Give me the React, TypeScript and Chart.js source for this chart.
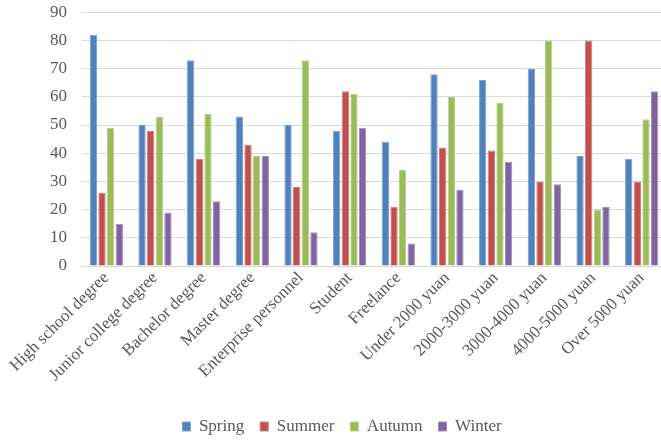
import React, { useEffect, useRef } from "react";
import { Chart, registerables } from "chart.js";

Chart.register(...registerables);

const categories = [
  "High school degree",
  "Junior college degree",
  "Bachelor degree",
  "Master degree",
  "Enterprise personnel",
  "Student",
  "Freelance",
  "Under 2000 yuan",
  "2000-3000 yuan",
  "3000-4000 yuan",
  "4000-5000 yuan",
  "Over 5000 yuan",
];

const spring = [82, 50, 73, 53, 50, 48, 44, 68, 66, 70, 39, 38];
const summer = [26, 48, 38, 43, 28, 62, 21, 42, 41, 30, 80, 30];
const autumn = [49, 53, 54, 39, 73, 61, 34, 60, 58, 80, 20, 52];
const winter = [15, 19, 23, 39, 12, 49, 8, 27, 37, 29, 21, 62];

const FONT = "'Liberation Serif', 'Times New Roman', serif";
const TEXT = "#595959";
const SIZE = 17;

// nudges the legend row a little to the right of the canvas centre
const legendShift = {
  id: "legendShift",
  beforeDraw(chart: any) {
    const lg = chart.legend;
    if (lg && !lg._shifted) {
      lg.left += 9;
      lg.right += 9;
      lg._shifted = true;
    }
  },
};

export default function App() {
  const ref = useRef<HTMLCanvasElement | null>(null);

  useEffect(() => {
    if (!ref.current) return;
    const mk = (label: string, data: number[], fill: string, edge: string) => ({
      label,
      data,
      backgroundColor: fill,
      borderColor: edge,
      borderWidth: 1,
      categoryPercentage: 0.71,
      barPercentage: 0.85,
    });
    const chart = new Chart(ref.current, {
      type: "bar",
      data: {
        labels: categories,
        datasets: [
          mk("Spring", spring, "#4F81BD", "#7EA0CE"),
          mk("Summer", summer, "#C0504D", "#D27F7C"),
          mk("Autumn", autumn, "#9BBB59", "#B9D08A"),
          mk("Winter", winter, "#8064A2", "#A28DBB"),
        ],
      },
      plugins: [legendShift],
      options: {
        animation: false,
        responsive: false,
        layout: { padding: { top: 0, right: 4, bottom: 0, left: 0 } },
        plugins: {
          tooltip: { enabled: false },
          legend: {
            position: "bottom",
            labels: {
              boxWidth: 8,
              boxHeight: 9,
              padding: 16,
              color: TEXT,
              font: { family: FONT, size: SIZE },
              useBorderRadius: false,
            },
          },
        },
        scales: {
          x: {
            afterFit: (scale: any) => {
              scale.height = 136;
            },
            grid: { display: false, drawTicks: false },
            border: { display: true, color: "#D9D9D9", width: 1 },
            ticks: {
              color: TEXT,
              font: { family: FONT, size: SIZE },
              minRotation: 45,
              maxRotation: 45,
              autoSkip: false,
              padding: 2,
            },
          },
          y: {
            min: 0,
            max: 90,
            afterFit: (scale: any) => {
              scale.width = 82;
            },
            grid: { color: "#D9D9D9", lineWidth: 1, drawTicks: false },
            border: { display: false },
            ticks: {
              stepSize: 10,
              color: TEXT,
              font: { family: FONT, size: SIZE },
              padding: 15,
            },
          },
        },
      },
    });
    return () => chart.destroy();
  }, []);

  return (
    <div
      style={{
        position: "fixed",
        left: 0,
        top: 0,
        width: 661,
        height: 441,
        overflow: "hidden",
        background: "#fff",
      }}
    >
      <canvas
        ref={ref}
        width={670}
        height={458}
        style={{ position: "absolute", left: 0, top: -13, width: 670, height: 458 }}
      />
    </div>
  );
}
